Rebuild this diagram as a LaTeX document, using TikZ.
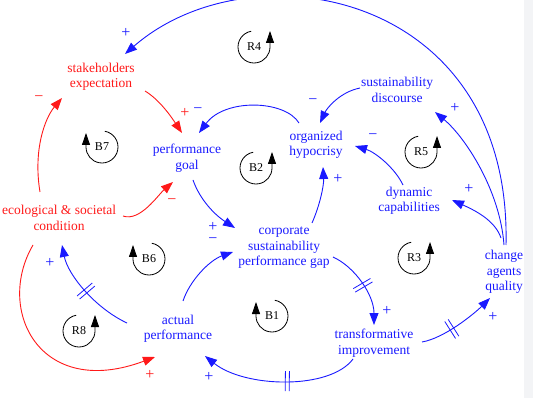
\documentclass[tikz,border=0pt]{standalone}
\usepackage{fontspec}
\setmainfont{Liberation Serif}
\usetikzlibrary{arrows.meta,decorations.markings}
\definecolor{cblue}{RGB}{25,25,255}
\definecolor{cred}{RGB}{255,25,25}
\definecolor{strip}{RGB}{243,244,246}
\newcommand\cldR[3]{% name, position, label
  \node[looplbl] (#1) at (#2) {#3};
  \draw[loopline] ([shift={(100:16)}]#1.center) arc[start angle=100,end angle=360,radius=16] -- ++(0,16);}
\newcommand\cldB[3]{%
  \node[looplbl] (#1) at (#2) {#3};
  \draw[loopline] ([shift={(80:16)}]#1.center) arc[start angle=80,end angle=-180,radius=16] -- ++(0,14);}
\begin{document}
\begin{tikzpicture}[x=1pt,y=1pt,
  var/.style={align=center,inner sep=0pt,font=\fontsize{13.5}{15.5}\selectfont},
  bvar/.style={var,text=cblue},
  rvar/.style={var,text=cred},
  lbl/.style={inner sep=0pt,font=\fontsize{16}{16}\selectfont},
  looplbl/.style={inner sep=0pt,font=\fontsize{12}{12}\selectfont,text=black},
  loopline/.style={draw=black,line width=0.8pt,-{Triangle[length=12pt,width=8pt]}},
  conn/.style={line width=0.9pt,-{Triangle[length=12pt,width=9pt]}},
  bconn/.style={conn,draw=cblue},
  rconn/.style={conn,draw=cred},
  delaymark/.style={postaction={decorate,decoration={markings,
    mark=at position #1 with {\draw[cblue,line width=0.8pt,-] (-2pt,-10pt)--(-2pt,10pt) (2pt,-10pt)--(2pt,10pt);}}}}
]
\useasboundingbox (0,0) rectangle (533,-398);
\fill[strip] (524,0) rectangle (533,-398);

% variables
\node[rvar] (SE) at (101,-77) {stakeholders\\expectation};
\node[bvar] (PG) at (187,-158) {performance\\goal};
\node[bvar] (OH) at (316,-145) {organized\\hypocrisy};
\node[bvar] (SD) at (397,-90) {sustainability\\discourse};
\node[bvar] (DC) at (409,-201) {dynamic\\capabilities};
\node[bvar] (CA) at (504,-272) {change\\agents\\quality};
\node[bvar] (GAP) at (284,-248) {corporate\\sustainability\\performance gap};
\node[bvar] (TI) at (374,-343) {transformative\\improvement};
\node[bvar] (AP) at (178,-329) {actual\\performance};
\node[rvar] (EC) at (59,-218) {ecological \& societal\\condition};

% loop markers
\cldR{R4}{254,-47}{R4}
\cldB{B7}{102,-147}{B7}
\cldR{B2}{256,-168}{B2}
\cldR{R5}{421,-152}{R5}
\cldB{B6}{149,-259}{B6}
\cldR{R8}{79,-331}{R8}
\cldB{B1}{272,-316}{B1}
\cldR{R3}{414,-258}{R3}

% connectors
\draw[bconn] ([shift={(2,27)}]CA.center) .. controls +(6,255) and +(125,109) .. ([shift={(24,23)}]SE.center);
\draw[bconn] ([shift={(0,27)}]CA.center) .. controls +(-4,55) and +(30,-25) .. ([shift={(38,-22)}]SD.center);
\draw[bconn] ([shift={(-3,34)}]CA.center) .. controls +(-6,18) and +(22,-10) .. ([shift={(43,1)}]DC.center);
\draw[bconn,delaymark=0.4] ([shift={(48,1)}]TI.center) .. controls +(23,4) and +(-15,-15) .. ([shift={(-14,-26)}]CA.center);
\draw[bconn,delaymark=0.5] ([shift={(49,-9)}]GAP.center) .. controls +(22,-10) and +(0,30) .. ([shift={(0,18)}]TI.center);
\draw[bconn,delaymark=0.45] ([shift={(-21,-16)}]TI.center) .. controls +(-23,-31) and +(40,-32) .. ([shift={(27,-27)}]AP.center);
\draw[bconn] ([shift={(5,28)}]AP.center) .. controls +(7,21) and +(-23,-8) .. ([shift={(-51,-4)}]GAP.center);
\draw[bconn] ([shift={(6,-22)}]PG.center) .. controls +(7,-20) and +(-20,13) .. ([shift={(-49,20)}]GAP.center);
\draw[bconn] ([shift={(28,25)}]GAP.center) .. controls +(8,18) and +(1,-18) .. ([shift={(7,-22)}]OH.center);
\draw[bconn] ([shift={(-17,22)}]OH.center) .. controls +(-14,23) and +(26,35) .. ([shift={(12,25)}]PG.center);
\draw[bconn] ([shift={(-37,2)}]SD.center) .. controls +(-20,-4) and +(7,15) .. ([shift={(4,22)}]OH.center);
\draw[bconn] ([shift={(-6,16)}]DC.center) .. controls +(-8,17) and +(20,-6) .. ([shift={(39,-1)}]OH.center);
\draw[rconn] ([shift={(44,-14)}]SE.center) .. controls +(15,-9) and +(-10,15) .. ([shift={(-5,25)}]PG.center);
\draw[rconn] ([shift={(-19,26)}]EC.center) .. controls +(-7,42) and +(-17,-20) .. ([shift={(-39,-21)}]SE.center);
\draw[rconn] ([shift={(64,2)}]EC.center) .. controls +(17,-6) and +(-15,-13) .. ([shift={(-14,-24)}]PG.center);
\draw[rconn] ([shift={(-26,-27)}]EC.center) .. controls +(-38,-65) and +(-115,-43) .. ([shift={(-23,-28)}]AP.center);
\draw[bconn,delaymark=0.5] ([shift={(-51,6)}]AP.center) .. controls +(-32,15) and +(6,-30) .. ([shift={(3,-27)}]EC.center);

% polarity labels
\node[lbl,text=cblue] (p1) at (126,-33) {+};
\node[lbl,text=cred] (p2) at (185,-113) {+};
\node[lbl,text=cblue] (p3) at (198,-111) {−};
\node[lbl,text=cred] (p4) at (39,-99) {−};
\node[lbl,text=cblue] (p5) at (313,-102) {−};
\node[lbl,text=cblue] (p6) at (373,-137) {−};
\node[lbl,text=cblue] (p7) at (455,-108) {+};
\node[lbl,text=cblue] (p8) at (469,-189) {+};
\node[lbl,text=cblue] (p9) at (338,-179) {+};
\node[lbl,text=cblue] (p10) at (213,-227) {+};
\node[lbl,text=cblue] (p11) at (213,-241) {−};
\node[lbl,text=cred] (p12) at (172,-202) {−};
\node[lbl,text=cblue] (p13) at (50,-263) {+};
\node[lbl,text=cred] (p14) at (150,-375) {+};
\node[lbl,text=cblue] (p15) at (209,-377) {+};
\node[lbl,text=cblue] (p16) at (387,-311) {+};
\node[lbl,text=cblue] (p17) at (493,-317) {+};
\end{tikzpicture}
\end{document}
